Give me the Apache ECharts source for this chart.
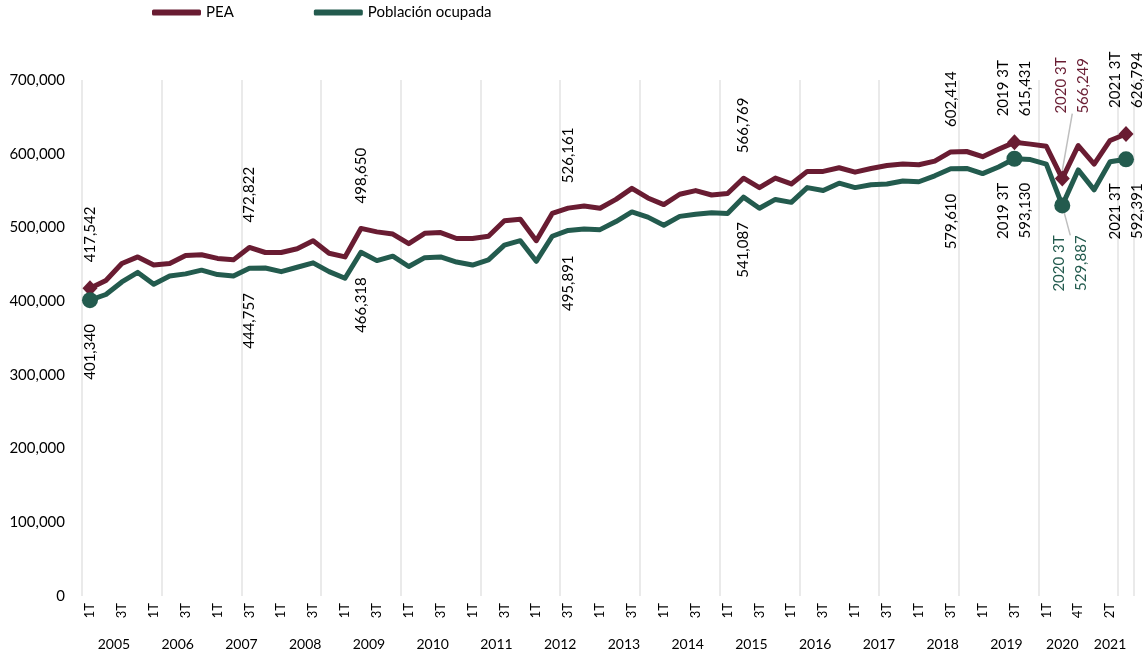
<!DOCTYPE html>
<html><head><meta charset="utf-8">
<script src="https://cdn.jsdelivr.net/npm/echarts@6/dist/echarts.min.js"></script>
<style>html,body{margin:0;padding:0;background:#fff}#c{width:1146px;height:656px}</style>
</head><body><div id="c"></div>
<script>
const years = ['2005','2006','2007','2008','2009','2010','2011','2012','2013','2014','2015','2016','2017','2018','2019','2020','2021'];
const Q4 = ['1T','2T','3T','4T'];
const quartersByYear = [Q4,Q4,Q4,Q4,Q4,Q4,Q4,Q4,Q4,Q4,Q4,Q4,Q4,Q4,Q4,['1T','3T','4T'],['1T','2T','3T']];
const pea = [
  417542,428000,451000,460000, 449000,451000,462000,463000, 458000,456000,472822,466000,
  466000,471000,482000,465000, 460000,498650,494000,491000, 478000,492000,493000,485000,
  485000,488000,509000,511000, 482000,519000,526161,529000, 526000,538000,553000,540000,
  531000,545000,550000,544000, 546000,566769,554000,567000, 559000,576000,576000,581000,
  575000,580000,584000,586000, 585000,590000,602414,603000, 596000,606000,615431,613000,
  610000,566249,611000, 586000,618000,626794
];
const ocupada = [
  401340,409000,426000,439000, 423000,434000,437000,442000, 436000,434000,444757,445000,
  440000,446000,452000,440000, 431000,466318,455000,461000, 447000,459000,460000,453000,
  449000,456000,476000,482000, 454000,488000,495891,498000, 497000,508000,521000,514000,
  503000,515000,518000,520000, 519000,541087,526000,538000, 534000,554000,550000,560000,
  554000,558000,559000,563000, 562000,570000,579610,580000, 573000,582000,593130,592000,
  586000,529887,578000, 551000,589000,592391
];
const yTicks = [0,100000,200000,300000,400000,500000,600000,700000];
const labeledIdx = [0,10,17,30,41,54,58,61,65];
const periodLabelIdx = [58,61,65];
const markedIdx = [0,58,61,65];
const calloutIdx = 61;

const categories = [], catYear = [];
quartersByYear.forEach((qs,i)=>qs.forEach(q=>{categories.push(q);catYear.push(years[i]);}));
const yearCenters = {}; let start = 0;
quartersByYear.forEach((qs,i)=>{yearCenters[(start+qs.length/2).toFixed(1)] = years[i]; start += qs.length;});
const fmt = v => Number(v).toLocaleString('en-US');
const PEA_C = '#691C32', PO_C = '#235B4E';
const FONT = 'Lato';

function buildData(vals, color, above) {
  return vals.map((v,i)=>{
    if (!labeledIdx.includes(i)) return v;
    const marked = markedIdx.includes(i);
    const text = periodLabelIdx.includes(i) ? catYear[i]+' '+categories[i]+'\n'+fmt(v) : fmt(v);
    const item = {
      value: v,
      label: {
        show: true, formatter: text, position: above?'top':'bottom',
        distance: marked ? (above?18:16) : 25, rotate: 90,
        align: above?'left':'right', verticalAlign: 'middle',
        color: i===calloutIdx ? color : '#000', fontSize: 15, fontFamily: FONT, lineHeight: 22
      }
    };
    if (i===calloutIdx) item.labelLine = {show: true, lineStyle: {color: '#BFBFBF', width: 1.5}};
    return item;
  });
}

const chart = echarts.init(document.getElementById('c'));
chart.setOption({
  animation: false,
  backgroundColor: '#fff',
  textStyle: {fontFamily: FONT},
  legend: {
    left: 147, top: 0, icon: 'roundRect', itemWidth: 49, itemHeight: 6, itemGap: 80,
    textStyle: {fontSize: 15, color: '#000', fontFamily: FONT},
    data: ['PEA','Población ocupada']
  },
  grid: {left: 82, right: 12, top: 80, bottom: 60, outerBoundsMode: 'none'},
  xAxis: [{
    type: 'category', data: categories, boundaryGap: true,
    axisLine: {show: false}, axisTick: {show: false},
    splitLine: {show: true, interval: (idx)=>idx%5===0, lineStyle: {color: '#E3E3E3', width: 1.5}},
    axisLabel: {interval: 1, rotate: 90, fontSize: 13, color: '#000', margin: 7, fontFamily: FONT}
  },{
    type: 'value', min: 0, max: start, interval: 0.5, position: 'bottom', offset: 0,
    axisLine: {show: false}, axisTick: {show: false}, splitLine: {show: false},
    axisLabel: {margin: 41, fontSize: 14, color: '#000', fontFamily: FONT,
      formatter: v => yearCenters[Number(v).toFixed(1)] || ''}
  }],
  yAxis: {
    type: 'value', min: yTicks[0], max: yTicks[yTicks.length-1], interval: yTicks[1]-yTicks[0],
    axisLine: {show: false}, axisTick: {show: false}, splitLine: {show: false},
    axisLabel: {formatter: fmt, fontSize: 15, color: '#000', margin: 17, fontFamily: FONT}
  },
  series: [{
    name: 'PEA', type: 'line', data: buildData(pea, PEA_C, true),
    color: PEA_C, showAllSymbol: true, symbol: 'diamond',
    symbolSize: (val, p) => markedIdx.includes(p.dataIndex) ? [15,16] : 0,
    itemStyle: {color: PEA_C},
    lineStyle: {width: 5, color: PEA_C, cap: 'round', join: 'round'},
    labelLine: {show: false},
    labelLayout: p => p.dataIndex===calloutIdx ? {dx: 39, dy: 10} : {}
  },{
    name: 'Población ocupada', type: 'line', data: buildData(ocupada, PO_C, false),
    color: PO_C, showAllSymbol: true, symbol: 'circle',
    symbolSize: (val, p) => markedIdx.includes(p.dataIndex) ? 16 : 0,
    itemStyle: {color: PO_C},
    lineStyle: {width: 5, color: PO_C, cap: 'round', join: 'round'},
    labelLine: {show: false},
    labelLayout: p => p.dataIndex===calloutIdx ? {dx: -6, dy: 8} : {}
  }]
});
</script></body></html>
